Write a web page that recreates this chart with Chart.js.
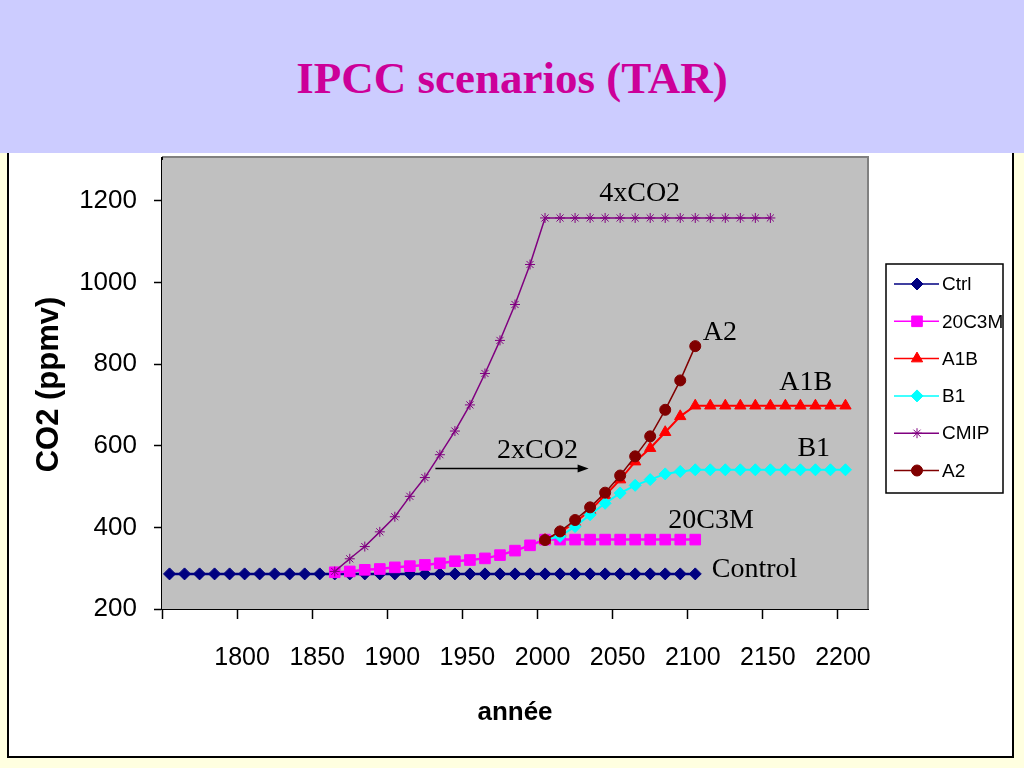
<!DOCTYPE html>
<html>
<head>
<meta charset="utf-8">
<title>IPCC scenarios (TAR)</title>
<script src="https://cdn.jsdelivr.net/npm/chart.js@4/dist/chart.umd.min.js"></script>
<style>
    html, body { margin: 0; padding: 0; }
    body { width: 1024px; height: 768px; overflow: hidden; background: #FFFFE0; position: relative; }
    .frame { position: absolute; left: 7px; top: 120px; width: 1007px; height: 638px; box-sizing: border-box;
             border: 2px solid #000; background: #fff; }
    .header { position: absolute; left: 0; top: 0; width: 1024px; height: 153px; background: #CCCCFF; }
    .header h1 { position: absolute; left: 0; top: 56px; width: 100%; margin: 0; text-align: center;
                 font: bold 45px/44px 'Liberation Serif', 'Times New Roman', serif; color: #CC0099; }
    #co2Chart { position: absolute; left: 0; top: 0; }
</style>
</head>
<body>
<div class="frame"></div>
<div class="header"><h1>IPCC scenarios (TAR)</h1></div>
<canvas id="co2Chart" width="1024" height="768"></canvas>
<script>
// Years of the samples (one every ten years)
var years = [1755, 1765, 1775, 1785, 1795, 1805, 1815, 1825, 1835, 1845,
             1855, 1865, 1875, 1885, 1895, 1905, 1915, 1925, 1935, 1945,
             1955, 1965, 1975, 1985, 1995, 2005, 2015, 2025, 2035, 2045,
             2055, 2065, 2075, 2085, 2095, 2105, 2115, 2125, 2135, 2145,
             2155, 2165, 2175, 2185, 2195, 2205];

// CO2 (ppmv) per series, null where the series has no value
var ctrl = [286, 286, 286, 286, 286, 286, 286, 286, 286, 286,
            286, 286, 286, 286, 286, 286, 286, 286, 286, 286,
            286, 286, 286, 286, 286, 286, 286, 286, 286, 286,
            286, 286, 286, 286, 286, 286, null, null, null, null,
            null, null, null, null, null, null];
var c20c3m = [null, null, null, null, null, null, null, null, null, null,
              null, 290, 292, 296, 298, 302, 305, 308, 312, 317,
              320, 324, 332, 343, 356, 370, 370, 370, 370, 370,
              370, 370, 370, 370, 370, 370, null, null, null, null,
              null, null, null, null, null, null];
var a1b = [null, null, null, null, null, null, null, null, null, null,
           null, null, null, null, null, null, null, null, null, null,
           null, null, null, null, null, 369, 388, 412, 442, 478,
           517, 561, 594, 633, 672, 698, 698, 698, 698, 698,
           698, 698, 698, 698, 698, 698];
var b1 = [null, null, null, null, null, null, null, null, null, null,
          null, null, null, null, null, null, null, null, null, null,
          null, null, null, null, null, 369, 378, 402, 431, 459,
          484, 503, 517, 531, 537, 541, 541, 541, 541, 541,
          541, 541, 541, 541, 541, 541];
var cmip = [null, null, null, null, null, null, null, null, null, null,
            null, 292, 323, 353, 389, 426, 476, 522, 578, 636,
            700, 777, 858, 946, 1044, 1158, 1158, 1158, 1158, 1158,
            1158, 1158, 1158, 1158, 1158, 1158, 1158, 1158, 1158, 1158,
            1158, null, null, null, null, null];
var a2 = [null, null, null, null, null, null, null, null, null, null,
          null, null, null, null, null, null, null, null, null, null,
          null, null, null, null, null, 369, 390, 418, 449, 485,
          527, 574, 623, 688, 760, 844, null, null, null, null,
          null, null, null, null, null, null];

// Axis ticks
var xTicks = [1750, 1800, 1850, 1900, 1950, 2000, 2050, 2100, 2150, 2200];
var yTicks = [200, 400, 600, 800, 1000, 1200];

// Text notes placed at [year, ppmv]
var notes = [
    { text: '4xCO2',   at: [2068, 1200], align: 'center' },
    { text: '2xCO2',   at: [2000, 571],  align: 'center' },
    { text: 'A2',      at: [2110, 860],  align: 'left' },
    { text: 'A1B',     at: [2161, 736],  align: 'left' },
    { text: 'B1',      at: [2173, 574],  align: 'left' },
    { text: '20C3M',   at: [2087, 399],  align: 'left' },
    { text: 'Control', at: [2116, 279],  align: 'left' }
];
var arrowFrom = [1932, 544];
var arrowTo = [2034, 544];

(function () {
    var sans = "'Liberation Sans', Arial, sans-serif";
    var serif = "'Liberation Serif', 'Times New Roman', serif";

    function points(vals) {
        var out = [];
        for (var i = 0; i < years.length; i++) {
            if (vals[i] !== null) out.push({ x: years[i], y: vals[i] });
        }
        return out;
    }

    var series = [
        { label: 'Ctrl',  data: ctrl,   color: '#000080', style: 'rectRot',  r: 6,   lw: 2.5, order: 6 },
        { label: '20C3M', data: c20c3m, color: '#FF00FF', style: 'rect',     r: 7.5, lw: 2.5, order: 5 },
        { label: 'A1B',   data: a1b,    color: '#FF0000', style: 'triangle', r: 6.5, lw: 2,   order: 4 },
        { label: 'B1',    data: b1,     color: '#00FFFF', style: 'rectRot',  r: 6,   lw: 2,   order: 3 },
        { label: 'CMIP',  data: cmip,   color: '#800080', style: 'star',     r: 5,   lw: 1.5, order: 2 },
        { label: 'A2',    data: a2,     color: '#800000', style: 'circle',   r: 5.5, lw: 1.5, order: 1 }
    ];

    var plotBg = {
        id: 'plotBg',
        beforeDatasetsDraw: function (chart) {
            var a = chart.chartArea, ctx = chart.ctx;
            var top = a.top - 3; // Excel plot frame sits a little above the axis max
            ctx.save();
            ctx.fillStyle = '#C0C0C0';
            ctx.fillRect(a.left, top, a.right - a.left, a.bottom - top);
            ctx.strokeStyle = '#808080';
            ctx.lineWidth = 2;
            ctx.beginPath();
            ctx.moveTo(a.left, top);
            ctx.lineTo(a.right, top);
            ctx.lineTo(a.right, a.bottom);
            ctx.stroke();
            ctx.strokeStyle = '#000';
            ctx.beginPath();
            ctx.moveTo(a.left, top);
            ctx.lineTo(a.left, a.top);
            ctx.stroke();
            ctx.restore();
        }
    };

    var notesPlugin = {
        id: 'notes',
        afterDatasetsDraw: function (chart) {
            var ctx = chart.ctx, xs = chart.scales.x, ys = chart.scales.y;
            ctx.save();
            ctx.fillStyle = '#000';
            ctx.font = '28px ' + serif;
            ctx.textBaseline = 'alphabetic';
            notes.forEach(function (n) {
                ctx.textAlign = n.align;
                ctx.fillText(n.text, xs.getPixelForValue(n.at[0]), ys.getPixelForValue(n.at[1]));
            });
            var x0 = xs.getPixelForValue(arrowFrom[0]), y0 = ys.getPixelForValue(arrowFrom[1]);
            var x1 = xs.getPixelForValue(arrowTo[0]), y1 = ys.getPixelForValue(arrowTo[1]);
            ctx.strokeStyle = '#000';
            ctx.lineWidth = 1.5;
            ctx.beginPath();
            ctx.moveTo(x0, y0);
            ctx.lineTo(x1 - 6, y1);
            ctx.stroke();
            ctx.beginPath();
            ctx.moveTo(x1, y1);
            ctx.lineTo(x1 - 11, y1 - 4);
            ctx.lineTo(x1 - 11, y1 + 4);
            ctx.closePath();
            ctx.fill();
            ctx.restore();
        }
    };

    var legendBox = {
        id: 'legendBox',
        afterDraw: function (chart) {
            var ctx = chart.ctx;
            var left = 886, top = 264, w = 117, h = 229;
            ctx.save();
            ctx.fillStyle = '#fff';
            ctx.fillRect(left, top, w, h);
            ctx.strokeStyle = '#000';
            ctx.lineWidth = 1.5;
            ctx.strokeRect(left, top, w, h);
            ctx.font = '19px ' + sans;
            ctx.textBaseline = 'middle';
            ctx.textAlign = 'left';
            series.forEach(function (s, i) {
                var y = top + 20 + i * 37.3;
                ctx.strokeStyle = s.color;
                ctx.fillStyle = s.color;
                ctx.lineWidth = 1.5;
                ctx.beginPath();
                ctx.moveTo(894, y);
                ctx.lineTo(939, y);
                ctx.stroke();
                ctx.lineWidth = 1;
                Chart.helpers.drawPoint(ctx, { pointStyle: s.style, radius: s.r, rotation: 0, borderWidth: 1 }, 917, y);
                ctx.fillStyle = '#000';
                ctx.fillText(s.label, 942, y + 1);
            });
            ctx.restore();
        }
    };

    new Chart(document.getElementById('co2Chart'), {
        type: 'line',
        data: {
            datasets: series.map(function (s) {
                return {
                    label: s.label,
                    data: points(s.data),
                    order: s.order,
                    borderColor: s.color,
                    backgroundColor: s.color,
                    borderWidth: s.lw,
                    pointStyle: s.style,
                    pointRadius: s.r,
                    pointBorderWidth: 1,
                    pointBorderColor: s.color,
                    pointBackgroundColor: s.color,
                    tension: 0,
                    fill: false
                };
            })
        },
        options: {
            responsive: false,
            animation: false,
            layout: { padding: { top: 160, right: 156, bottom: 0, left: 0 } },
            plugins: { legend: { display: false }, tooltip: { enabled: false } },
            scales: {
                x: {
                    type: 'linear',
                    min: 1750,
                    max: 2220,
                    afterFit: function (s) { s.height = 159; },
                    afterBuildTicks: function (s) { s.ticks = xTicks.map(function (v) { return { value: v }; }); },
                    ticks: {
                        color: '#000',
                        font: { family: sans, size: 25 },
                        padding: 24,
                        labelOffset: 5,
                        maxRotation: 0,
                        autoSkip: false,
                        callback: function (v) { return v === 1750 ? '' : String(v); }
                    },
                    grid: { drawOnChartArea: false, drawTicks: true, tickLength: 10, tickColor: '#000', tickWidth: 1.5 },
                    border: { color: '#000', width: 2 },
                    title: {
                        display: true, text: 'année', color: '#000',
                        font: { family: sans, size: 26, weight: 'bold' },
                        padding: { top: 0, bottom: 40 }
                    }
                },
                y: {
                    min: 200,
                    max: 1300,
                    afterFit: function (s) { s.width = 162; },
                    afterBuildTicks: function (s) { s.ticks = yTicks.map(function (v) { return { value: v }; }); },
                    ticks: {
                        color: '#000',
                        font: { family: sans, size: 26 },
                        padding: 17,
                        callback: function (v) { return String(v); }
                    },
                    grid: { drawOnChartArea: false, drawTicks: true, tickLength: 8, tickColor: '#000', tickWidth: 1.5 },
                    border: { color: '#000', width: 2 },
                    title: {
                        display: true, text: 'CO2 (ppmv)', color: '#000',
                        font: { family: sans, size: 31, weight: 'bold' },
                        padding: { top: 31, bottom: 0 }
                    }
                }
            }
        },
        plugins: [plotBg, notesPlugin, legendBox]
    });
})();
</script>
</body>
</html>
